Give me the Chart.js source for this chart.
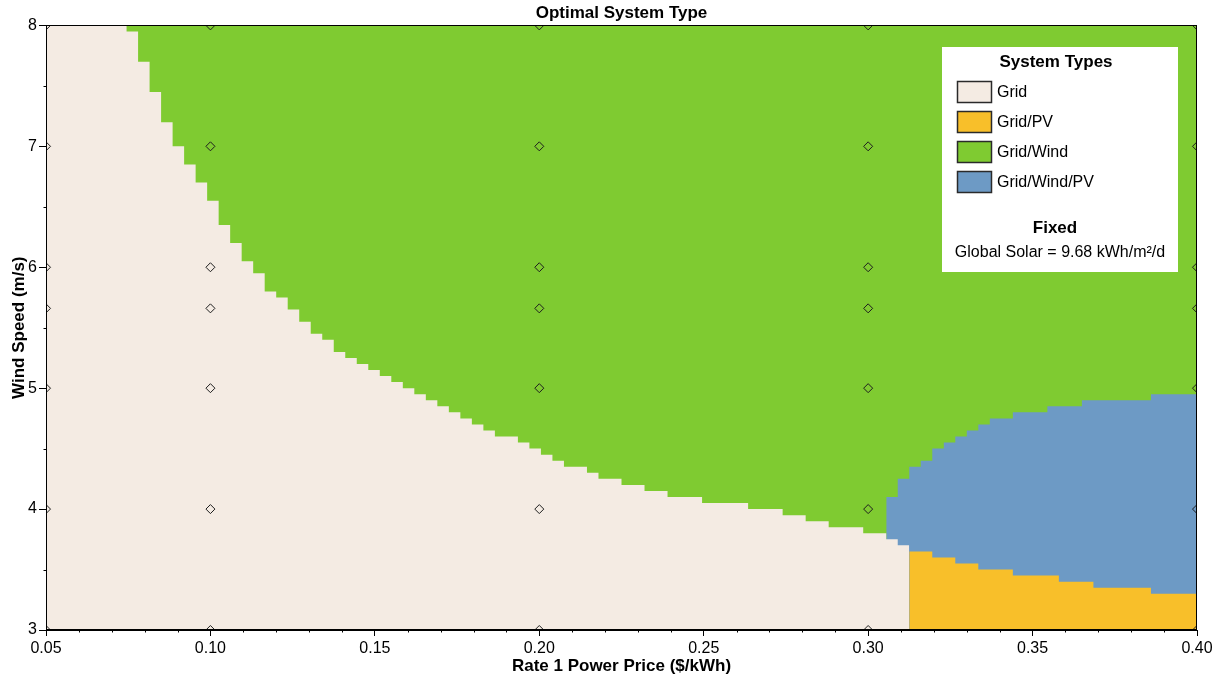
<!DOCTYPE html>
<html>
<head>
<meta charset="utf-8">
<title>Optimal System Type</title>
<script src="https://cdn.jsdelivr.net/npm/chart.js@4.4.0/dist/chart.umd.min.js"></script>
<style>
  html, body { margin: 0; padding: 0; background: #fff; }
  #wrap { width: 1219px; height: 682px; }
</style>
</head>
<body>
<div id="wrap"><canvas id="chart" width="1219" height="682"></canvas></div>
<script>
// values
const chartTitle = 'Optimal System Type';
const xTitle = 'Rate 1 Power Price ($/kWh)';
const yTitle = 'Wind Speed (m/s)';

const systemTypes  = ['Grid', 'Grid/PV', 'Grid/Wind', 'Grid/Wind/PV'];
const systemColors = ['#f4ebe3', '#f8bf2a', '#7fcb31', '#6d9ac5'];
const fixedTitle = 'Fixed';
const fixedText  = 'Global Solar = 9.68 kWh/m\u00b2/d';

const priceTicks = [0.05, 0.10, 0.15, 0.20, 0.25, 0.30, 0.35, 0.40];
const windTicks  = [3, 4, 5, 6, 7, 8];

// sensitivity cases (the diamonds)
const casePrices = [0.05, 0.10, 0.20, 0.30, 0.40];
const caseWinds  = [3, 4, 5, 5.66, 6, 7, 8];

// Grid/Wind everywhere up to the top of the range
const windPrices = [0.05, 0.40];
const windTop    = [8, 8];

// top of the Grid region, from each price on (step starts)
const gridPrices = [0.0500, 0.0745, 0.0780, 0.0815, 0.0850, 0.0885, 0.0920, 0.0955, 0.0990, 0.1025,
                    0.1060, 0.1095, 0.1130, 0.1165, 0.1200, 0.1235, 0.1270, 0.1305, 0.1340, 0.1375,
                    0.1410, 0.1445, 0.1480, 0.1515, 0.1550, 0.1585, 0.1620, 0.1655, 0.1690, 0.1725,
                    0.1760, 0.1795, 0.1830, 0.1865, 0.1935, 0.1970, 0.2005, 0.2040, 0.2075, 0.2145,
                    0.2180, 0.2250, 0.2320, 0.2390, 0.2495, 0.2635, 0.2740, 0.2810, 0.2880, 0.2985,
                    0.3055, 0.3090, 0.3125];
const gridTop    = [8.00, 7.95, 7.70, 7.45, 7.20, 7.00, 6.85, 6.70, 6.55, 6.35,
                    6.20, 6.05, 5.95, 5.80, 5.75, 5.65, 5.55, 5.45, 5.40, 5.30,
                    5.25, 5.20, 5.15, 5.10, 5.05, 5.00, 4.95, 4.90, 4.85, 4.80,
                    4.75, 4.70, 4.65, 4.60, 4.55, 4.50, 4.45, 4.40, 4.35, 4.30,
                    4.25, 4.20, 4.15, 4.10, 4.05, 4.00, 3.95, 3.90, 3.85, 3.80,
                    3.75, 3.70, 3.00];

// top of the Grid/Wind/PV region
const hybridPrices = [0.3055, 0.3090, 0.3125, 0.3160, 0.3195, 0.3230, 0.3265, 0.3300, 0.3335, 0.3370,
                      0.3440, 0.3545, 0.3650, 0.3860, 0.4000];
const hybridTop    = [4.10, 4.25, 4.35, 4.40, 4.50, 4.55, 4.60, 4.65, 4.70, 4.75,
                      4.80, 4.85, 4.90, 4.95, 4.95];

// top of the Grid/PV region
const pvPrices = [0.3125, 0.3195, 0.3265, 0.3335, 0.3440, 0.3580, 0.3685, 0.3860, 0.4000];
const pvTop    = [3.65, 3.60, 3.55, 3.50, 3.45, 3.40, 3.35, 3.30, 3.30];

const FONT = "'Liberation Sans', Arial, sans-serif";

function region(label, xs, ys, color, order) {
    return {
        label: label,
        data: xs.map((x, i) => ({ x: x, y: ys[i] })),
        stepped: true,
        fill: 'start',
        backgroundColor: color,
        borderColor: 'rgba(0,0,0,0)',
        borderWidth: 0,
        pointRadius: 0,
        order: order
    };
}

let cases = [];
casePrices.forEach(p => caseWinds.forEach(w => cases.push({ x: p, y: w })));

// frame, minor ticks and the legend box inside the plot
const framePlugin = {
    id: 'frame',
    beforeDraw(chart) {
        const ctx = chart.ctx;
        ctx.save();
        ctx.fillStyle = '#fff';
        ctx.fillRect(0, 0, chart.width, chart.height);
        ctx.restore();
    },
    afterDraw(chart) {
        const { ctx, chartArea: a, scales } = chart;
        const L = Math.round(a.left) + 0.5, R = Math.round(a.right) - 0.5;
        const T = Math.round(a.top) + 0.5, B = Math.round(a.bottom) - 0.5;
        ctx.save();
        ctx.strokeStyle = '#000';
        ctx.lineWidth = 1;
        ctx.strokeRect(L, T, R - L, B - T);

        // minor ticks
        ctx.beginPath();
        for (let i = 5; i <= 40; i++) {
            if (i % 5 === 0) continue;
            const px = Math.round(scales.x.getPixelForValue(i / 100)) + 0.5;
            ctx.moveTo(px, B); ctx.lineTo(px, B + 3);
        }
        for (let i = 6; i <= 16; i++) {
            if (i % 2 === 0) continue;
            const py = Math.round(scales.y.getPixelForValue(i / 2)) + 0.5;
            ctx.moveTo(L, py); ctx.lineTo(L - 3, py);
        }
        ctx.stroke();

        // legend
        const bx = Math.round(a.right) - 255, by = Math.round(a.top) + 22, bw = 236, bh = 225;
        ctx.fillStyle = '#fff';
        ctx.fillRect(bx, by, bw, bh);
        ctx.fillStyle = '#000';
        ctx.textBaseline = 'middle';
        ctx.textAlign = 'center';
        ctx.font = 'bold 17px ' + FONT;
        ctx.fillText('System Types', bx + bw / 2 - 4, by + 15);
        ctx.textAlign = 'left';
        ctx.font = '16px ' + FONT;
        systemTypes.forEach((name, i) => {
            const cy = by + 45 + i * 30;
            ctx.fillStyle = systemColors[i];
            ctx.fillRect(bx + 15, cy - 11, 35, 22);
            ctx.strokeStyle = '#2a2a2a';
            ctx.lineWidth = 1.5;
            ctx.strokeRect(bx + 15.5, cy - 10.5, 34, 21);
            ctx.fillStyle = '#000';
            ctx.fillText(name, bx + 55, cy + 1);
        });
        ctx.textAlign = 'center';
        ctx.font = 'bold 17px ' + FONT;
        ctx.fillText(fixedTitle, bx + bw / 2 - 5, by + 181);
        ctx.font = '16px ' + FONT;
        ctx.fillText(fixedText, bx + bw / 2, by + 206);
        ctx.restore();
    }
};

new Chart(document.getElementById('chart'), {
    type: 'line',
    data: {
        datasets: [
            {
                label: 'Sensitivity cases',
                data: cases,
                showLine: false,
                fill: false,
                pointStyle: 'rectRot',
                pointRadius: 4.5,
                pointBorderWidth: 1,
                pointBorderColor: '#1e1e1e',
                pointBackgroundColor: 'rgba(0,0,0,0)',
                clip: 0,
                order: 0
            },
            region(systemTypes[1], pvPrices, pvTop, systemColors[1], 1),
            region(systemTypes[0], gridPrices, gridTop, systemColors[0], 2),
            region(systemTypes[3], hybridPrices, hybridTop, systemColors[3], 3),
            region(systemTypes[2], windPrices, windTop, systemColors[2], 4)
        ]
    },
    options: {
        responsive: false,
        animation: false,
        events: [],
        layout: { padding: { left: 0, right: 22, top: 0, bottom: 0 } },
        plugins: {
            legend: { display: false },
            tooltip: { enabled: false },
            title: {
                display: true,
                text: chartTitle,
                fullSize: false,
                color: '#000',
                font: { family: FONT, size: 17, weight: 'bold' },
                padding: { top: 3, bottom: 2 }
            }
        },
        scales: {
            x: {
                type: 'linear',
                min: priceTicks[0],
                max: priceTicks[priceTicks.length - 1],
                afterFit: s => { s.height = 52; },
                afterBuildTicks: s => { s.ticks = priceTicks.map(v => ({ value: v })); },
                ticks: {
                    callback: v => Number(v).toFixed(2),
                    color: '#000',
                    font: { family: FONT, size: 16 },
                    padding: 3,
                    maxRotation: 0,
                    autoSkip: false
                },
                grid: { drawOnChartArea: false, tickLength: 6, color: '#000' },
                border: { color: '#000', width: 1 },
                title: {
                    display: true,
                    text: xTitle,
                    color: '#000',
                    font: { family: FONT, size: 17, weight: 'bold' },
                    padding: { top: 0, bottom: 5 }
                }
            },
            y: {
                type: 'linear',
                min: windTicks[0],
                max: windTicks[windTicks.length - 1],
                afterFit: s => { s.width = 46; },
                afterBuildTicks: s => { s.ticks = windTicks.map(v => ({ value: v })); },
                ticks: {
                    callback: v => String(v),
                    color: '#000',
                    font: { family: FONT, size: 16 },
                    padding: 2,
                    autoSkip: false
                },
                grid: { drawOnChartArea: false, tickLength: 7, color: '#000' },
                border: { color: '#000', width: 1 },
                title: {
                    display: true,
                    text: yTitle,
                    color: '#000',
                    font: { family: FONT, size: 17, weight: 'bold' },
                    padding: { top: 9, bottom: 0 }
                }
            }
        }
    },
    plugins: [framePlugin]
});
</script>
</body>
</html>
